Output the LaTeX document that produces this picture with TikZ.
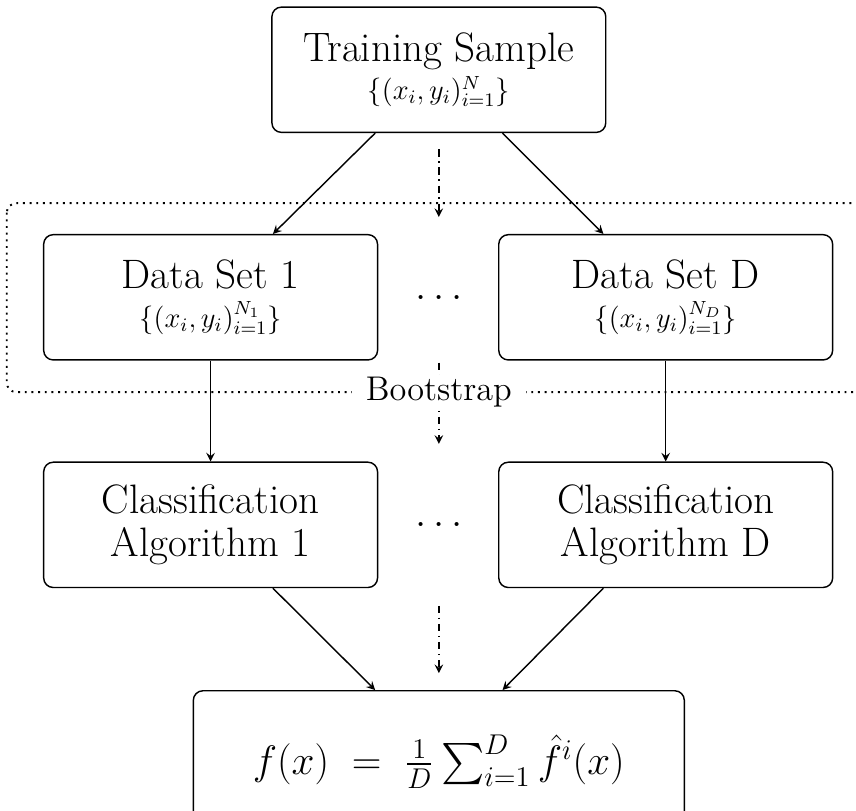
\documentclass[tikz,border=0pt]{standalone}
\usepackage{exscale}
\usetikzlibrary{calc}
\begin{document}
\begin{tikzpicture}[>=stealth,line join=round,semithick,
	box/.style={draw,rounded corners,minimum width=4.93cm,minimum height=1.85cm,align=center,font=\LARGE},
	res/.style={draw,rounded corners,minimum width=7.25cm,minimum height=2.1cm,font=\LARGE},
	skip/.style={dashdotted,->}]
	\useasboundingbox (0,0) rectangle (12.64,-11.97);
	\draw[dotted,thick,rounded corners] (0.10,-3.0) rectangle (12.86,-5.79);
	\node[box] (top) at (6.48,-1.03) {Training Sample\\[-6pt]{\large $\{(x_i,y_i)_{i=1}^{N}\}$}};
	\node[box] (ds1) at (3.11,-4.39) {Data Set 1\\[-6pt]{\large $\{(x_i,y_i)_{i=1}^{N_1}\}$}};
	\node[box] (dsD) at (9.83,-4.39) {Data Set D\\[-6pt]{\large $\{(x_i,y_i)_{i=1}^{N_D}\}$}};
	\node[box] (cl1) at (3.11,-7.75) {Classification\\[-4pt]Algorithm 1};
	\node[box] (clD) at (9.83,-7.75) {Classification\\[-4pt]Algorithm D};
	\node[font=\LARGE] (dots1) at (6.48,-4.39) {$\dots$};
	\node[font=\LARGE] (dots2) at (6.48,-7.75) {$\dots$};
	\node[res] (sum) at (6.48,-11.25) {$f(x) \;=\; \frac{1}{D}\sum_{i=1}^{D}\hat{f}^{i}(x)$};
	\draw[->] ([xshift=-0.94cm]top.south)--([xshift=0.92cm]ds1.north);
	\draw[->] ([xshift=0.94cm]top.south)--([xshift=-0.92cm]dsD.north);
	\draw[->] (ds1)--(cl1);
	\draw[->] (dsD)--(clD);
	\draw[->] ([xshift=0.92cm]cl1.south)--([xshift=-0.94cm]sum.north);
	\draw[->] ([xshift=-0.92cm]clD.south)--([xshift=0.94cm]sum.north);
	\draw[skip,shorten <=0.24cm,shorten >=0.25cm] (top.south)--(top.south |- ds1.north);
	\draw[skip,shorten <=0.03cm,shorten >=0.26cm] (dots1 |- ds1.south)--(dots2 |- cl1.north);
	\draw[skip,shorten <=0.26cm,shorten >=0.25cm] (dots2 |- cl1.south)--(sum.north);
	\node[fill=white,font=\Large,inner xsep=6pt,inner ysep=1pt] (boot) at (6.48,-5.79) {Bootstrap};
\end{tikzpicture}
\end{document}
